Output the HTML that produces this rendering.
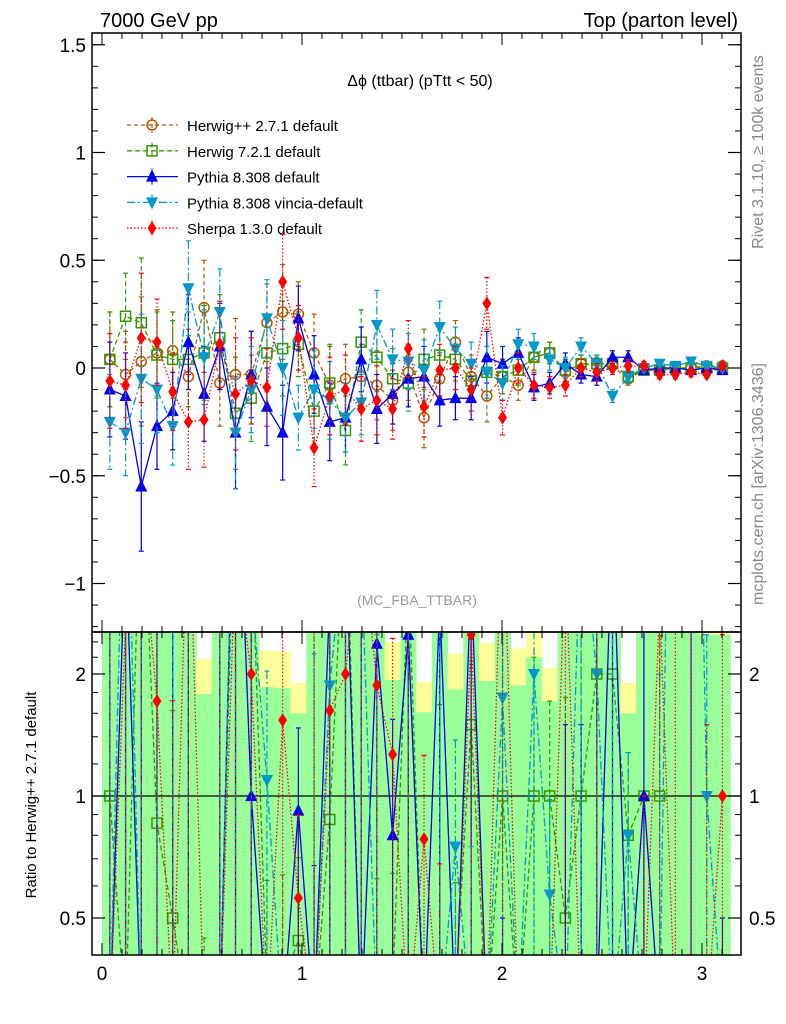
<!DOCTYPE html>
<html><head><meta charset="utf-8"><style>
html,body{margin:0;background:#fff;width:786px;height:1024px;overflow:hidden;}
svg{display:block;font-family:"Liberation Sans",sans-serif;overflow:hidden;}
</style></head><body>
<svg id="c" width="786" height="1024" viewBox="0 0 786 1024"></svg>
<script>
const binCount = 40;
const herwigpp = [0.04,-0.03,0.03,0.07,0.08,-0.04,0.28,-0.07,-0.03,-0.03,0.21,0.26,0.25,0.07,-0.08,-0.05,-0.04,-0.08,-0.15,-0.02,-0.23,-0.05,0.12,-0.04,-0.13,-0.04,-0.08,0.05,0.07,-0.02,0.02,0.01,0.01,-0.05,-0.01,-0.01,0,0,0.01,0.01];
const herwig7 = [0.04,0.24,0.21,0.06,0.04,0.04,0.07,0.14,-0.21,-0.14,0.07,0.09,0.11,-0.2,-0.07,-0.29,0.12,0.05,-0.05,-0.07,0.04,0.06,0.04,-0.06,-0.02,-0.04,-0.01,0.05,0.07,-0.01,0.02,0.02,0.02,-0.04,-0.01,-0.01,0,0,0,0];
const pythia = [-0.1,-0.13,-0.55,-0.27,-0.2,0.12,-0.12,0.1,-0.3,-0.03,-0.18,-0.3,0.23,-0.03,-0.25,-0.23,0.04,-0.19,-0.12,-0.05,-0.04,-0.15,-0.14,-0.14,0.05,0.02,0.07,-0.09,-0.07,0.02,-0.03,-0.04,0.05,0.05,-0.01,0,0,-0.01,0,-0.01];
const vincia = [-0.25,-0.3,-0.05,-0.1,-0.27,0.37,0.05,0.26,-0.3,-0.1,0.23,0,-0.23,-0.1,-0.15,-0.23,-0.16,0.2,0.04,0.03,-0.01,0.19,0.09,0.02,-0.02,-0.07,0.11,0.1,0.04,0,0.1,0.02,-0.13,-0.04,0,0.02,0.01,0.03,0.01,0];
const sherpa = [-0.06,-0.08,0.14,0.12,-0.11,-0.25,-0.24,0.11,-0.12,-0.06,-0.09,0.4,0.14,-0.37,-0.13,-0.1,-0.19,-0.15,-0.19,0.09,-0.18,-0.01,0,-0.1,0.3,-0.23,0,-0.08,-0.09,-0.08,0,-0.02,0,0.01,0.01,-0.03,-0.03,-0.02,-0.03,0.01];
const errs = [0.22,0.2,0.3,0.2,0.18,0.22,0.22,0.2,0.26,0.2,0.18,0.22,0.15,0.18,0.18,0.16,0.15,0.16,0.14,0.13,0.14,0.12,0.1,0.1,0.12,0.08,0.07,0.06,0.05,0.05,0.04,0.04,0.03,0.03,0.02,0.02,0.02,0.02,0.015,0.015];
const mainTicks = [1.5,1,0.5,0,-0.5,-1];
const mainTickLabels = ["1.5","1","0.5","0","\u22120.5","\u22121"];
const ratioTicks = [2,1,0.5];
const ratioTickLabels = ["2","1","0.5"];
const xTicks = [0,1,2,3];
const xTickLabels = ["0","1","2","3"];

const NS="http://www.w3.org/2000/svg";
const svg=document.getElementById('c');
const L=92,R=741,T=33,M=632,B=955;
const X=v=>102+200*v;
const Y=v=>368-215.5*v;
const YR=r=>r<=0?1020:Math.max(0,Math.min(1020,796-122*Math.log2(r)));
const bw=Math.PI/binCount;
const ctr=i=>(i+0.5)*bw;
function el(tag,attrs,parent){const e=document.createElementNS(NS,tag);for(const k in attrs)e.setAttribute(k,attrs[k]);(parent||svg).appendChild(e);return e;}
function txt(s,attrs,parent){const e=el('text',attrs,parent);e.textContent=s;return e;}

const defs=el('defs',{});
const cp1=el('clipPath',{id:'cm'},defs);el('rect',{x:L,y:T,width:R-L,height:M-T},cp1);
const cp2=el('clipPath',{id:'cr'},defs);el('rect',{x:L,y:M,width:R-L,height:B-M},cp2);

const bands=el('g',{'clip-path':'url(#cr)'});


for(let i=0;i<binCount;i++){
  const h=Math.abs(herwigpp[i])||0.001;
  const re=errs[i]/h;
  const x0=X(i*bw),w=200*bw;
  const y1a=Math.max(YR(1+1.5*re),M-5),y1b=Math.min(YR(Math.max(1-1.5*re,1e-6)),B+5);
  const r1=el('rect',{x:x0,y:y1a,width:w+0.5,height:y1b-y1a,fill:'#ffff99'},bands);
  
  const y2a=Math.max(YR(1+re),M-5),y2b=Math.min(YR(Math.max(1-re,1e-6)),B+5);
  const r2=el('rect',{x:x0,y:y2a,width:w+0.5,height:y2b-y2a,fill:'#99ff99'},bands);
  
}
el('line',{x1:L,x2:R,y1:YR(1),y2:YR(1),stroke:'#000','stroke-width':1.2});

const series=[
 {name:'herwigpp',d:herwigpp,c:'#b35900',dash:'4,3',m:'circle',label:'Herwig++ 2.7.1 default'},
 {name:'herwig7',d:herwig7,c:'#339900',dash:'5,3',m:'square',label:'Herwig 7.2.1 default'},
 {name:'pythia',d:pythia,c:'#0000ee',dash:'',m:'up',label:'Pythia 8.308 default'},
 {name:'vincia',d:vincia,c:'#0099cc',dash:'8,3,2,3',m:'down',label:'Pythia 8.308 vincia-default'},
 {name:'sherpa',d:sherpa,c:'#ff0000',dash:'1.5,2',m:'diamond',label:'Sherpa 1.3.0 default'}
];
function marker(g,m,x,y,c){
  let e;
  if(m==='circle')e=el('circle',{cx:x,cy:y,r:5,fill:'none',stroke:c,'stroke-width':1.5},g);
  else if(m==='square')e=el('rect',{x:x-5,y:y-5,width:10,height:10,fill:'none',stroke:c,'stroke-width':1.5},g);
  else if(m==='up')e=el('polygon',{points:`${x},${y-7} ${x-6},${y+5} ${x+6},${y+5}`,fill:c},g);
  else if(m==='down')e=el('polygon',{points:`${x},${y+7} ${x-6},${y-5} ${x+6},${y-5}`,fill:c},g);
  else e=el('polygon',{points:`${x},${y-7} ${x-4.5},${y} ${x},${y+7} ${x+4.5},${y}`,fill:c},g);
  
  
}
function drawSeries(s,yf,clip,ratio){
  const g=el('g',{'clip-path':`url(#${clip})`});
  
  
  const vals=s.d.map((v,i)=>ratio?v/herwigpp[i]:v);
  const pts=vals.map((v,i)=>`${X(ctr(i))},${yf(v)}`).join(' ');
  const pl=el('polyline',{points:pts,fill:'none',stroke:s.c,'stroke-width':1.3,'stroke-dasharray':s.dash},g);
  
  vals.forEach((v,i)=>{
    const x=X(ctr(i));
    const e=ratio?errs[i]/Math.abs(herwigpp[i]||0.001):errs[i];
    const ya=yf(ratio?v+e*Math.abs(v):v+e), yb=yf(ratio?v-e*Math.abs(v):v-e);
    const eb=el('line',{x1:x,x2:x,y1:ya,y2:yb,stroke:s.c,'stroke-width':1.2,'stroke-dasharray':s.dash},g);
    
    el('line',{x1:x-2.5,x2:x+2.5,y1:ya,y2:ya,stroke:s.c,'stroke-width':1.2},g);
    el('line',{x1:x-2.5,x2:x+2.5,y1:yb,y2:yb,stroke:s.c,'stroke-width':1.2},g);
    marker(g,s.m,x,yf(v),s.c);
  });
}
series.forEach(s=>drawSeries(s,Y,'cm',false));
series.slice(1).forEach(s=>drawSeries(s,YR,'cr',true));

el('rect',{x:L,y:T,width:R-L,height:M-T,fill:'none',stroke:'#000','stroke-width':1.5});
el('rect',{x:L,y:M,width:R-L,height:B-M,fill:'none',stroke:'#000','stroke-width':1.5});

for(let v=-1.2;v<=1.55;v+=0.1){const y=Y(v);if(y<T||y>M)continue;
  el('line',{x1:L,x2:L+6,y1:y,y2:y,stroke:'#000'});el('line',{x1:R-6,x2:R,y1:y,y2:y,stroke:'#000'});}
mainTicks.forEach((v,i)=>{const y=Y(v);
  el('line',{x1:L,x2:L+13,y1:y,y2:y,stroke:'#000','stroke-width':1.2});el('line',{x1:R-13,x2:R,y1:y,y2:y,stroke:'#000','stroke-width':1.2});
  const t=txt(mainTickLabels[i],{x:L-6,y:y+7,'text-anchor':'end','font-size':19});
  });
[0.4,0.5,0.6,0.7,0.8,0.9,1.2,1.4,1.6,1.8,2.2,2.4].forEach(v=>{const y=YR(v);if(y<M||y>B)return;
  el('line',{x1:L,x2:L+6,y1:y,y2:y,stroke:'#000'});el('line',{x1:R-6,x2:R,y1:y,y2:y,stroke:'#000'});});
ratioTicks.forEach((v,i)=>{const y=YR(v);
  el('line',{x1:L,x2:L+13,y1:y,y2:y,stroke:'#000','stroke-width':1.2});el('line',{x1:R-13,x2:R,y1:y,y2:y,stroke:'#000','stroke-width':1.2});
  const a=txt(ratioTickLabels[i],{x:L-6,y:y+7,'text-anchor':'end','font-size':19});
  
  const b=txt(ratioTickLabels[i],{x:R+8,y:y+7,'font-size':19});
  });
for(let v=0;v<=3.15;v+=0.1){const x=X(v);const maj=Math.abs(v-Math.round(v))<1e-6;const len=maj?12:6;
  el('line',{x1:x,x2:x,y1:T,y2:T+len,stroke:'#000'});el('line',{x1:x,x2:x,y1:M-len,y2:M+len,stroke:'#000'});
  el('line',{x1:x,x2:x,y1:B-len,y2:B,stroke:'#000'});}
xTicks.forEach((v,i)=>{const t=txt(xTickLabels[i],{x:X(v),y:980,'text-anchor':'middle','font-size':19});
  });

let t;
t=txt('7000 GeV pp',{x:100,y:27,'font-size':20});
t=txt('Top (parton level)',{x:738,y:27,'font-size':20,'text-anchor':'end'});
t=txt('\u0394\u03d5 (ttbar) (pTtt < 50)',{x:420,y:86,'font-size':16,'text-anchor':'middle'});
t=txt('(MC_FBA_TTBAR)',{x:417,y:605,'font-size':14,'text-anchor':'middle',fill:'#999'});
t=txt('Rivet 3.1.10, \u2265 100k events',{x:0,y:0,'font-size':16,fill:'#888','text-anchor':'middle',transform:'translate(763,152) rotate(-90)'});
t=txt('mcplots.cern.ch [arXiv:1306.3436]',{x:0,y:0,'font-size':16,fill:'#888','text-anchor':'middle',transform:'translate(763,484) rotate(-90)'});
t=txt('Ratio to Herwig++ 2.7.1 default',{x:0,y:0,'font-size':15,'text-anchor':'middle',transform:'translate(36,795) rotate(-90)'});

const lg=el('g',{});

series.forEach((s,i)=>{const y=125+25.8*i;
  const g=el('g',{},lg);
  
  el('line',{x1:127,x2:178,y1:y,y2:y,stroke:s.c,'stroke-width':1.3,'stroke-dasharray':s.dash},g);
  el('line',{x1:152,x2:152,y1:y-8,y2:y+8,stroke:s.c,'stroke-width':1.2,'stroke-dasharray':s.dash},g);
  marker(g,s.m,152,y,s.c);
  txt(s.label,{x:187,y:y+6,'font-size':15},g);});
</script>
</body></html>
